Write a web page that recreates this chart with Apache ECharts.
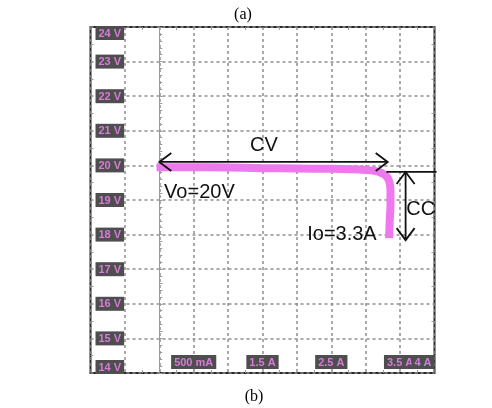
<!DOCTYPE html>
<html>
<head>
<meta charset="utf-8">
<script src="https://cdn.jsdelivr.net/npm/echarts@6/dist/echarts.min.js"></script>
<style>html,body{margin:0;padding:0;background:#fff;}#c{width:492px;height:408px;}</style>
</head>
<body>
<div id="c"></div>
<script>
// ---- data ----
const curveCurrent = [-0.04, 0.5, 1.0, 1.5, 2.0, 2.5, 3.0, 3.13, 3.23, 3.30, 3.34, 3.36, 3.36, 3.35, 3.34];
const curveVoltage = [19.95, 19.95, 19.94, 19.92, 19.91, 19.90, 19.87, 19.84, 19.78, 19.69, 19.55, 19.29, 18.86, 18.42, 17.90];
const xTickValues = [0.5, 1.5, 2.5, 3.5, 4];
const xTickLabels = ['500 mA', '1.5 A', '2.5 A', '3.5 A', '4 A'];
const yTickValues = [14, 15, 16, 17, 18, 19, 20, 21, 22, 23, 24];
const yTickLabels = ['14 V', '15 V', '16 V', '17 V', '18 V', '19 V', '20 V', '21 V', '22 V', '23 V', '24 V'];
// annotations (data coordinates)
const cvArrow = [[0, 20.1], [3.32, 20.1]];
const ccLine = [[3.30, 19.81], [4.03, 19.81]];
const ccArrow = [[3.58, 19.81], [3.58, 17.84]];
const annTexts = [
  { text: 'CV', at: [1.52, 20.59], align: 'center' },
  { text: 'Vo=20V', at: [0.07, 19.23], align: 'left' },
  { text: 'CC', at: [3.59, 18.74], align: 'left' },
  { text: 'Io=3.3A', at: [3.16, 17.99], align: 'right' }
];

const X_MIN = -1, X_MAX = 4;
const labelRich = {
  b: { backgroundColor: '#4e4e4e', color: '#d77ad9', fontFamily: 'Liberation Sans', fontWeight: 'bold', fontSize: 11, padding: [2, 3, 1, 3], lineHeight: 12 }
};
const gridLine = { show: true, lineStyle: { color: '#8e8e8e', width: 1.5, type: [3, 3] } };
function xLabel(v, wantMax) {
  const isMax = Math.abs(v - X_MAX) < 1e-6;
  if (isMax !== wantMax) return '';
  const i = xTickValues.findIndex(t => Math.abs(t - v) < 1e-6);
  return i >= 0 ? '{b|' + xTickLabels[i] + '}' : '';
}

const chart = echarts.init(document.getElementById('c'));
chart.setOption({
  backgroundColor: '#fff',
  animation: false,
  title: [
    { text: '(a)', left: 238, top: 2, textAlign: 'center', textStyle: { fontFamily: 'Liberation Serif', fontSize: 16, fontWeight: 'normal', color: '#000' } },
    { text: '(b)', left: 249, top: 384, textAlign: 'center', textStyle: { fontFamily: 'Liberation Serif', fontSize: 16, fontWeight: 'normal', color: '#000' } }
  ],
  grid: { left: 90.5, top: 27, width: 344, height: 346, show: true, borderColor: '#2a2a2a', borderWidth: 2, backgroundColor: 'transparent' },
  xAxis: [
    {
      type: 'value', min: X_MIN, max: X_MAX, interval: 0.5, position: 'bottom',
      axisLine: { show: false, onZero: false },
      axisTick: { show: false, inside: true },
      minorTick: { show: true, splitNumber: 2, length: 3, lineStyle: { color: '#999' } },
      splitLine: gridLine,
      axisLabel: {
        inside: true, margin: 5, hideOverlap: false,
        formatter: v => xLabel(v, false),
        rich: labelRich
      }
    },
    {
      type: 'value', min: X_MIN, max: X_MAX, interval: 0.5, position: 'top',
      axisLine: { show: false, onZero: false },
      axisTick: { show: false, inside: true },
      minorTick: { show: true, splitNumber: 2, length: 3, lineStyle: { color: '#999' } },
      splitLine: { show: false }, axisLabel: { show: false }
    },
    {
      type: 'value', min: X_MIN, max: X_MAX, interval: 0.5, position: 'bottom', offset: 0,
      axisLine: { show: false, onZero: false },
      axisTick: { show: false }, splitLine: { show: false },
      axisLabel: {
        inside: true, margin: 5, alignMaxLabel: 'right', showMaxLabel: true,
        formatter: v => xLabel(v, true),
        rich: labelRich
      }
    }
  ],
  yAxis: [
    {
      type: 'value', min: 14, max: 24, interval: 1, position: 'left',
      axisLine: { show: false, onZero: false },
      axisTick: { show: false, inside: true },
      minorTick: { show: true, splitNumber: 2, length: 3, lineStyle: { color: '#999' } },
      splitLine: gridLine,
      axisLabel: {
        inside: true, margin: 5, showMaxLabel: true, showMinLabel: true,
        verticalAlignMaxLabel: 'top', verticalAlignMinLabel: 'bottom',
        formatter: function (v) {
          const i = yTickValues.findIndex(t => Math.abs(t - v) < 1e-6);
          return i >= 0 ? '{b|' + yTickLabels[i] + '}' : '';
        },
        rich: labelRich
      }
    },
    {
      type: 'value', min: 14, max: 24, interval: 1, position: 'right',
      axisLine: { show: false, onZero: false },
      axisTick: { show: false, inside: true },
      minorTick: { show: true, splitNumber: 2, length: 3, lineStyle: { color: '#999' } },
      splitLine: { show: false }, axisLabel: { show: false }
    },
    {
      type: 'value', min: 14, max: 24, interval: 1, position: 'left',
      axisLine: { show: true, onZero: true, onZeroAxisIndex: 0, lineStyle: { color: '#9a9a9a', width: 1 } },
      axisTick: { show: true, inside: true, length: 3, lineStyle: { color: '#9a9a9a' } },
      minorTick: { show: true, splitNumber: 5, length: 3, lineStyle: { color: '#9a9a9a' } },
      splitLine: { show: false }, axisLabel: { show: false }
    }
  ],
  series: [{
    type: 'line', xAxisIndex: 0, yAxisIndex: 0,
    data: curveCurrent.map((c, i) => [c, curveVoltage[i]]),
    showSymbol: false, smooth: 0.3,
    lineStyle: { color: '#ee78ee', width: 8, cap: 'butt', join: 'round' },
    z: 3
  }]
});

function px(p) { return chart.convertToPixel({ gridIndex: 0 }, p); }
function chevron(tip, from) {
  const dx = tip[0] - from[0], dy = tip[1] - from[1];
  const len = Math.hypot(dx, dy); const ux = dx / len, uy = dy / len;
  const depth = 12, half = 9;
  const bx = tip[0] - ux * depth, by = tip[1] - uy * depth;
  return [[bx - uy * half, by + ux * half], tip, [bx + uy * half, by - ux * half]];
}
const stroke = { stroke: '#111', lineWidth: 1.8, fill: null };
const els = [];
function addArrow(seg, both) {
  const a = px(seg[0]), b = px(seg[1]);
  els.push({ type: 'polyline', shape: { points: [a, b] }, style: stroke, z: 10 });
  els.push({ type: 'polyline', shape: { points: chevron(b, a) }, style: stroke, z: 10 });
  if (both) els.push({ type: 'polyline', shape: { points: chevron(a, b) }, style: stroke, z: 10 });
}
addArrow(cvArrow, true);
addArrow(ccArrow, true);
{
  const a = px(ccLine[0]), b = px(ccLine[1]);
  els.push({ type: 'polyline', shape: { points: [a, b] }, style: stroke, z: 10 });
}
annTexts.forEach(t => {
  const p = px(t.at);
  els.push({ type: 'text', z: 11, style: { text: t.text, x: p[0], y: p[1], font: '20px "Liberation Sans"', fill: '#111', align: t.align, textAlign: t.align, verticalAlign: 'middle', textVerticalAlign: 'middle' } });
});
chart.setOption({ graphic: els });
</script>
</body>
</html>
